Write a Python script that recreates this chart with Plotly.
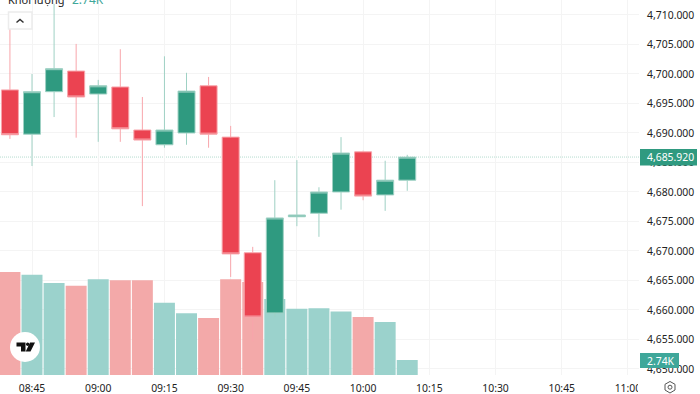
import plotly.graph_objects as go

W, H = 700, 394
PL, PB = 639, 375  # plot right / bottom in px

times = ["08:40","08:45","08:50","08:55","09:00","09:05","09:10","09:15","09:20","09:25",
         "09:30","09:35","09:40","09:45","09:50","09:55","10:00","10:05","10:10"]
opens = [4697.3,4689.8,4697.0,4700.5,4696.6,4697.8,4690.5,4688.0,4690.0,4698.0,
         4689.3,4669.7,4659.5,4675.8,4676.4,4680.0,4686.8,4679.5,4682.0]
highs = [4708.3,4700.0,4711.9,4705.1,4699.0,4704.2,4696.1,4703.0,4700.2,4699.5,
         4691.2,4670.7,4682.0,4685.4,4680.8,4689.3,4687.0,4685.3,4686.3]
lows =  [4689.0,4684.4,4692.7,4689.2,4688.5,4688.5,4677.6,4687.5,4688.0,4687.5,
         4665.6,4654.7,4658.8,4674.2,4672.4,4677.0,4678.6,4676.8,4680.2]
closes= [4689.7,4697.0,4700.9,4696.1,4698.0,4690.7,4688.8,4690.5,4697.1,4689.8,
         4669.5,4658.8,4675.6,4676.1,4680.0,4686.6,4679.3,4682.0,4685.9]
volumes=[18.8,18.3,16.8,16.3,17.5,17.3,17.3,13.2,11.3,10.4,17.5,17.0,13.9,12.1,12.2,11.6,10.6,9.7,2.74]
price_ticks = [4650,4655,4660,4665,4670,4675,4680,4685,4690,4695,4700,4705,4710]
last_price = 4685.92
last_volume = "2.74K"
UP, DOWN = "#2f9a80", "#eb4351"
UP_WICK, DOWN_WICK = "#9fd1c4", "#f8a5ab"
UP_VOL, DOWN_VOL = "#9bd2cc", "#f3a9a9"
TEXT = "#222222"

def d(t):
    return "2024-01-02 " + t + ":00"
xs = [d(t) for t in times]
xlabels = ["08:45","09:00","09:15","09:30","09:45","10:00","10:15","10:30","10:45","11:00"]
xticks = [d(t) for t in xlabels]

def px(x): return x / PL
def py(y): return 1 - y / PB
def path(points, close=True):
    s = " ".join(("M" if i == 0 else "L") + f"{px(a):.5f},{py(b):.5f}" for i, (a, b) in enumerate(points))
    return s + (" Z" if close else "")

fig = go.Figure()
fig.add_bar(x=xs, y=volumes, yaxis="y", xaxis="x",
            marker=dict(color=[UP_VOL if c >= o else DOWN_VOL for o, c in zip(opens, closes)], line=dict(width=0)),
            showlegend=False, hoverinfo="skip")
fig.add_candlestick(x=xs, open=opens, high=highs, low=lows, close=closes, yaxis="y2", xaxis="x",
                    increasing=dict(line=dict(color=UP_WICK, width=1), fillcolor=UP),
                    decreasing=dict(line=dict(color=DOWN_WICK, width=1), fillcolor=DOWN),
                    whiskerwidth=0, showlegend=False)

font = "Noto Sans, Open Sans, sans-serif"
TS = 10.4
shapes = [
    dict(type="line", xref="paper", x0=0, x1=1, yref="y2", y0=last_price, y1=last_price,
         line=dict(color="#b5dccf", width=1, dash="1px,1px"), layer="below"),
    dict(type="rect", xref="paper", yref="paper", x0=px(638), x1=px(700), y0=py(376), y1=py(394),
         fillcolor="white", line_width=0, layer="above"),
    dict(type="rect", xref="paper", yref="paper", x0=px(8.5), x1=px(32), y0=py(12), y1=py(29),
         fillcolor="white", line=dict(color="#ececec", width=1.5), layer="above"),
    dict(type="path", xref="paper", yref="paper", path=path([(16.5,22.5),(20,19.5),(23.5,22.5)], False),
         line=dict(color="#333333", width=1.5), layer="above"),
    dict(type="circle", xref="paper", yref="paper", x0=px(10), x1=px(40), y0=py(332), y1=py(362),
         fillcolor="white", line_width=0, layer="above"),
    dict(type="path", xref="paper", yref="paper",
         path=path([(16.5,342.5),(25.5,342.5),(25.5,351.5),(21,351.5),(21,346.5),(16.5,346.5)]),
         fillcolor="#111111", line_width=0, layer="above"),
    dict(type="circle", xref="paper", yref="paper", x0=px(26), x1=px(29.4), y0=py(342.5), y1=py(346),
         fillcolor="#111111", line_width=0, layer="above"),
    dict(type="path", xref="paper", yref="paper",
         path=path([(30,342.5),(35,342.5),(30.5,351.5),(25.7,351.5)]),
         fillcolor="#111111", line_width=0, layer="above"),
    dict(type="path", xref="paper", yref="paper",
         path=path([(670,381.5),(675,384.3),(675,390),(670,393),(665,390),(665,384.3)]),
         fillcolor="rgba(0,0,0,0)", line=dict(color="#555555", width=1), layer="above"),
    dict(type="circle", xref="paper", yref="paper", x0=px(668), x1=px(672), y0=py(385.2), y1=py(389.2),
         fillcolor="rgba(0,0,0,0)", line=dict(color="#555555", width=1), layer="above"),
    dict(type="rect", xref="paper", yref="paper", x0=px(640), x1=px(697), y0=py(149), y1=py(165.5),
         fillcolor="#2f9a80", line_width=0, layer="above"),
    dict(type="rect", xref="paper", yref="paper", x0=px(640), x1=px(679), y0=py(353), y1=py(368),
         fillcolor="#3fa79a", line_width=0, layer="above"),
]
annotations = [
    dict(xref="paper", yref="paper", x=px(644.5), y=py(157), text=f"{last_price:,.3f}", showarrow=False,
         xanchor="left", yanchor="middle", font=dict(color="white", size=TS, family=font)),
    dict(xref="paper", yref="paper", x=px(644.5), y=py(360.5), text=last_volume, showarrow=False,
         xanchor="left", yanchor="middle", font=dict(color="white", size=TS, family=font)),
    dict(xref="paper", yref="paper", x=px(5.5), y=py(-1), text="Khối lượng", showarrow=False,
         xanchor="left", yanchor="middle", font=dict(color=TEXT, size=11, family=font)),
    dict(xref="paper", yref="paper", x=px(70), y=py(-1), text=last_volume, showarrow=False,
         xanchor="left", yanchor="middle", font=dict(color="#3fa79a", size=12, family=font)),
]

fig.update_layout(
    width=W, height=H, margin=dict(l=0, r=W - PL, t=0, b=H - PB),
    paper_bgcolor="white", plot_bgcolor="white", boxgap=0.23, boxgroupgap=0, bargap=0.05,
    shapes=shapes, annotations=annotations, showlegend=False,
    font=dict(family=font, size=TS, color=TEXT),
    xaxis=dict(type="date", range=["2024-01-02 08:37:45", "2024-01-02 11:02:30"],
               tickvals=xticks, ticktext=xlabels, tickfont=dict(size=TS, color=TEXT),
               showgrid=True, gridcolor="#f4f4f4", gridwidth=1, ticks="outside", ticklen=4,
               tickcolor="rgba(0,0,0,0)", rangeslider=dict(visible=False),
               showline=False, zeroline=False, fixedrange=True),
    yaxis=dict(range=[0, 68.5], visible=False, showgrid=False, fixedrange=True),
    yaxis2=dict(overlaying="y", side="right", range=[4648.98, 4712.54], tickvals=price_ticks,
                ticktext=[f"{v:,.3f}" for v in price_ticks], tickfont=dict(size=TS, color=TEXT),
                showgrid=True, gridcolor="#f4f4f4", gridwidth=1, ticks="outside", ticklen=5,
                tickcolor="rgba(0,0,0,0)", showline=False, zeroline=False, fixedrange=True),
)
fig.write_html("out.html", config=dict(displayModeBar=False),
               post_script="document.body.style.margin='0';document.body.style.overflow='hidden';")
